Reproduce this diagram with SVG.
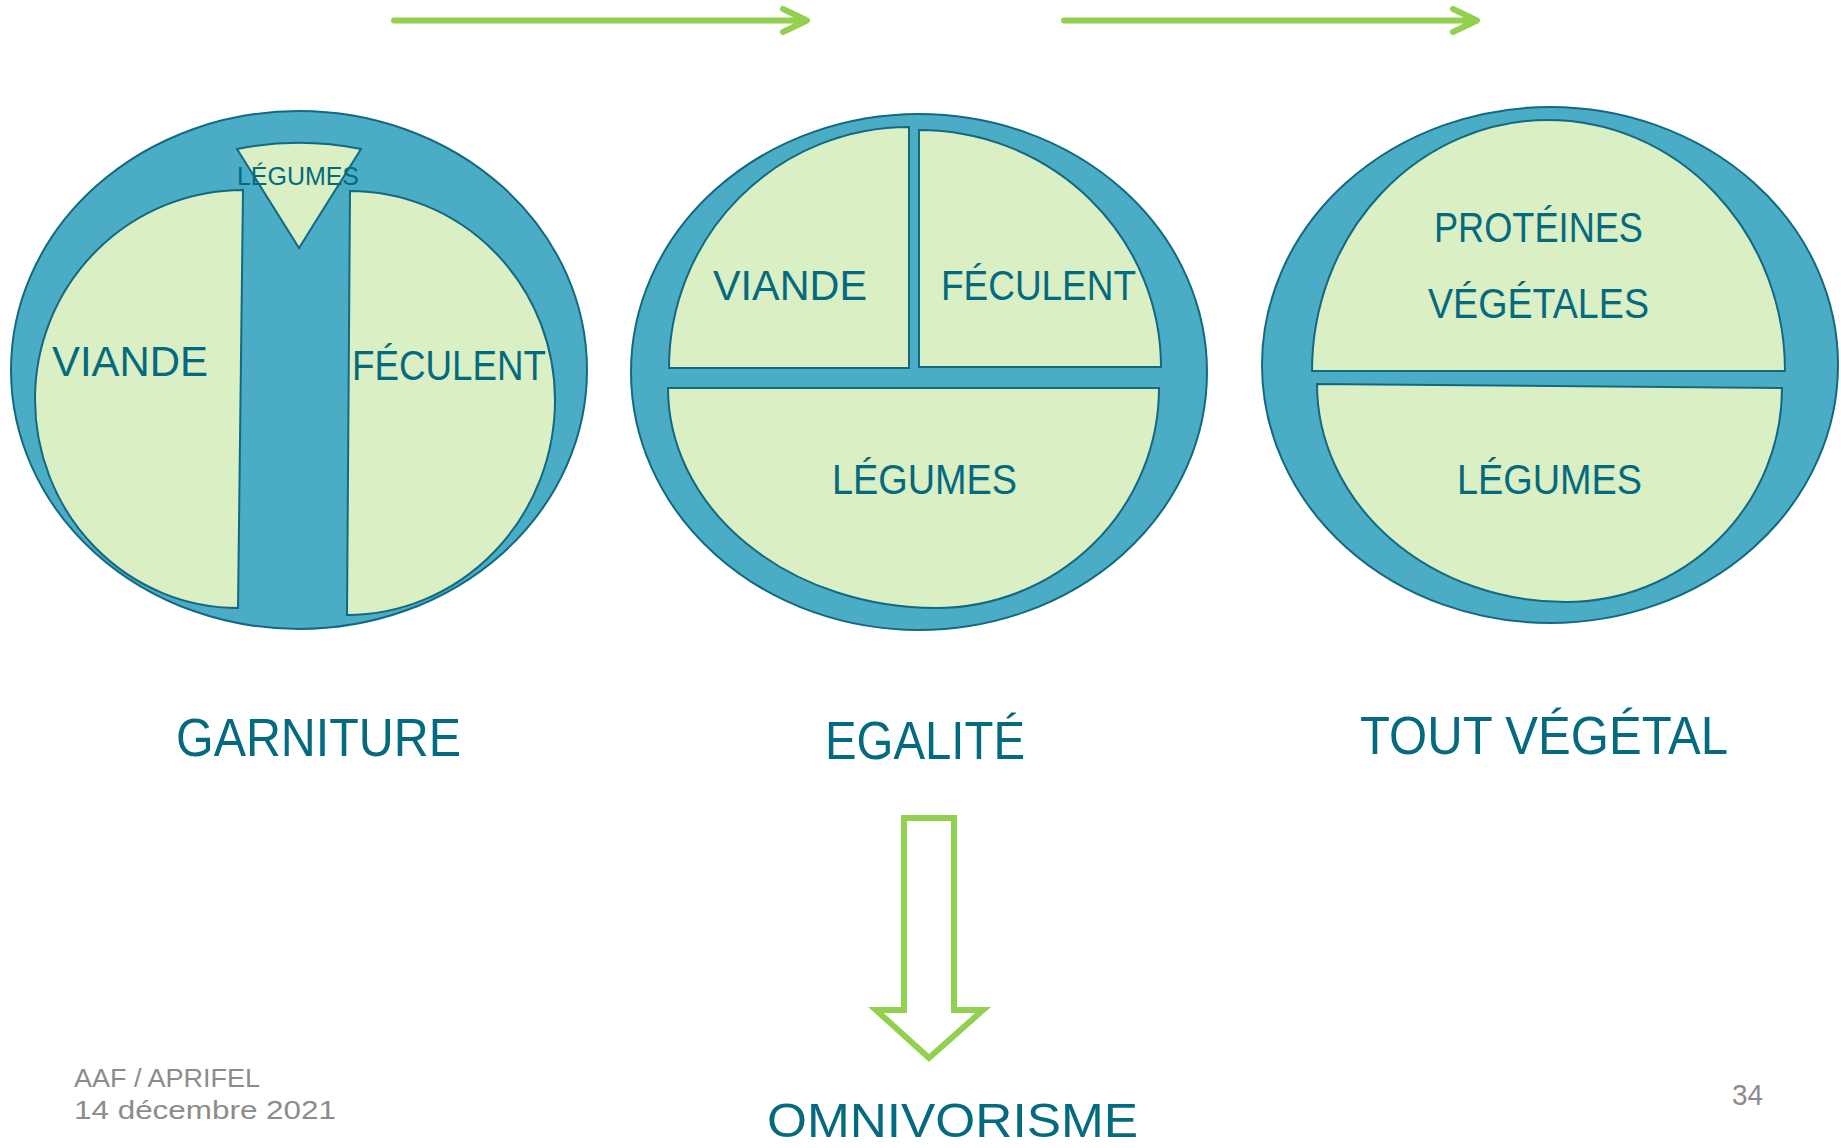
<svg xmlns="http://www.w3.org/2000/svg" width="1841" height="1148" viewBox="0 0 1841 1148">
<style>
.plate{fill:#4BACC6;stroke:#13697F;stroke-width:2}
.sec{fill:#DAEFC4;stroke:#13697F;stroke-width:2}
.t{font-family:"Liberation Sans","DejaVu Sans",sans-serif;fill:#046A7F}
.g{font-family:"Liberation Sans","DejaVu Sans",sans-serif;fill:#8C8C8C}
.arr{fill:none;stroke:#92D050;stroke-width:6;stroke-linecap:round;stroke-linejoin:round}
.big{fill:#FFFFFF;stroke:#92D050;stroke-width:6;stroke-linejoin:miter}
</style>
<rect width="1841" height="1148" fill="#FFFFFF"/>
<g id="connectors">
<path class="arr" d="M394,20.5 L806,20.5 M783,9 L807,20.5 L783,32"/>
<path class="arr" d="M1064,20.5 L1476,20.5 M1453,9 L1477,20.5 L1453,32"/>
<path class="big" d="M904,818 L954,818 L954,1010 L983,1010 L929,1058 L876,1010 L904,1010 Z"/>
</g>
<g id="plate-garniture">
<ellipse class="plate" cx="299" cy="370" rx="288" ry="259"/>
<path class="sec" d="M243,190 L238,608 A203 209 0 0 1 35,399 A208 209 0 0 1 243,190 Z"/>
<path class="sec" d="M350,191 A205 209 0 0 1 555,400 A208 215 0 0 1 347,615 Z"/>
<path class="sec" d="M237,149 Q299,136.4 361,149 L299,248 Z"/>
<text class="t" x="237" y="185" font-size="26.5" textLength="122" lengthAdjust="spacingAndGlyphs">LÉGUMES</text>
<text class="t" x="52" y="376" font-size="42" textLength="156" lengthAdjust="spacingAndGlyphs">VIANDE</text>
<text class="t" x="352" y="380" font-size="42" textLength="194" lengthAdjust="spacingAndGlyphs">FÉCULENT</text>
</g>
<g id="plate-egalite">
<ellipse class="plate" cx="919" cy="372" rx="288" ry="258"/>
<path class="sec" d="M909,127 L909,368 L669,368 A240 241 0 0 1 909,127 Z"/>
<path class="sec" d="M919,130 A242 237 0 0 1 1161,367 L919,367 Z"/>
<path class="sec" d="M668,388 L1159,388 A223 220 0 0 1 936,608 A268 220 0 0 1 668,388 Z"/>
<text class="t" x="713" y="300" font-size="43" textLength="154" lengthAdjust="spacingAndGlyphs">VIANDE</text>
<text class="t" x="941" y="300" font-size="43" textLength="195" lengthAdjust="spacingAndGlyphs">FÉCULENT</text>
<text class="t" x="832" y="494" font-size="43" textLength="185" lengthAdjust="spacingAndGlyphs">LÉGUMES</text>
</g>
<g id="plate-vegetal">
<ellipse class="plate" cx="1550" cy="365" rx="288" ry="258"/>
<path class="sec" d="M1312,371 A236 251 0 0 1 1548,120 A237 251 0 0 1 1785,371 Z"/>
<path class="sec" d="M1317,384 L1782,388 A216 214 0 0 1 1566,602 A249 218 0 0 1 1317,384 Z"/>
<text class="t" x="1434" y="242" font-size="43" textLength="209" lengthAdjust="spacingAndGlyphs">PROTÉINES</text>
<text class="t" x="1428" y="318" font-size="43" textLength="221" lengthAdjust="spacingAndGlyphs">VÉGÉTALES</text>
<text class="t" x="1457" y="494" font-size="43" textLength="185" lengthAdjust="spacingAndGlyphs">LÉGUMES</text>
</g>
<g id="label-garniture"><text class="t" x="176" y="756" font-size="54" textLength="285" lengthAdjust="spacingAndGlyphs">GARNITURE</text></g>
<g id="label-egalite"><text class="t" x="825" y="759" font-size="54" textLength="200" lengthAdjust="spacingAndGlyphs">EGALITÉ</text></g>
<g id="label-vegetal"><text class="t" x="1360" y="754" font-size="54" textLength="368" lengthAdjust="spacingAndGlyphs">TOUT VÉGÉTAL</text></g>
<g id="label-omnivorisme"><text class="t" x="767" y="1137" font-size="48" textLength="371" lengthAdjust="spacingAndGlyphs">OMNIVORISME</text></g>
<g id="footer">
<text class="g" x="74" y="1087" font-size="26" textLength="186" lengthAdjust="spacingAndGlyphs">AAF / APRIFEL</text>
<text class="g" x="74" y="1119" font-size="26" textLength="262" lengthAdjust="spacingAndGlyphs">14 décembre 2021</text>
<text class="g" x="1732" y="1105" font-size="29" textLength="31" lengthAdjust="spacingAndGlyphs">34</text>
</g>
</svg>
